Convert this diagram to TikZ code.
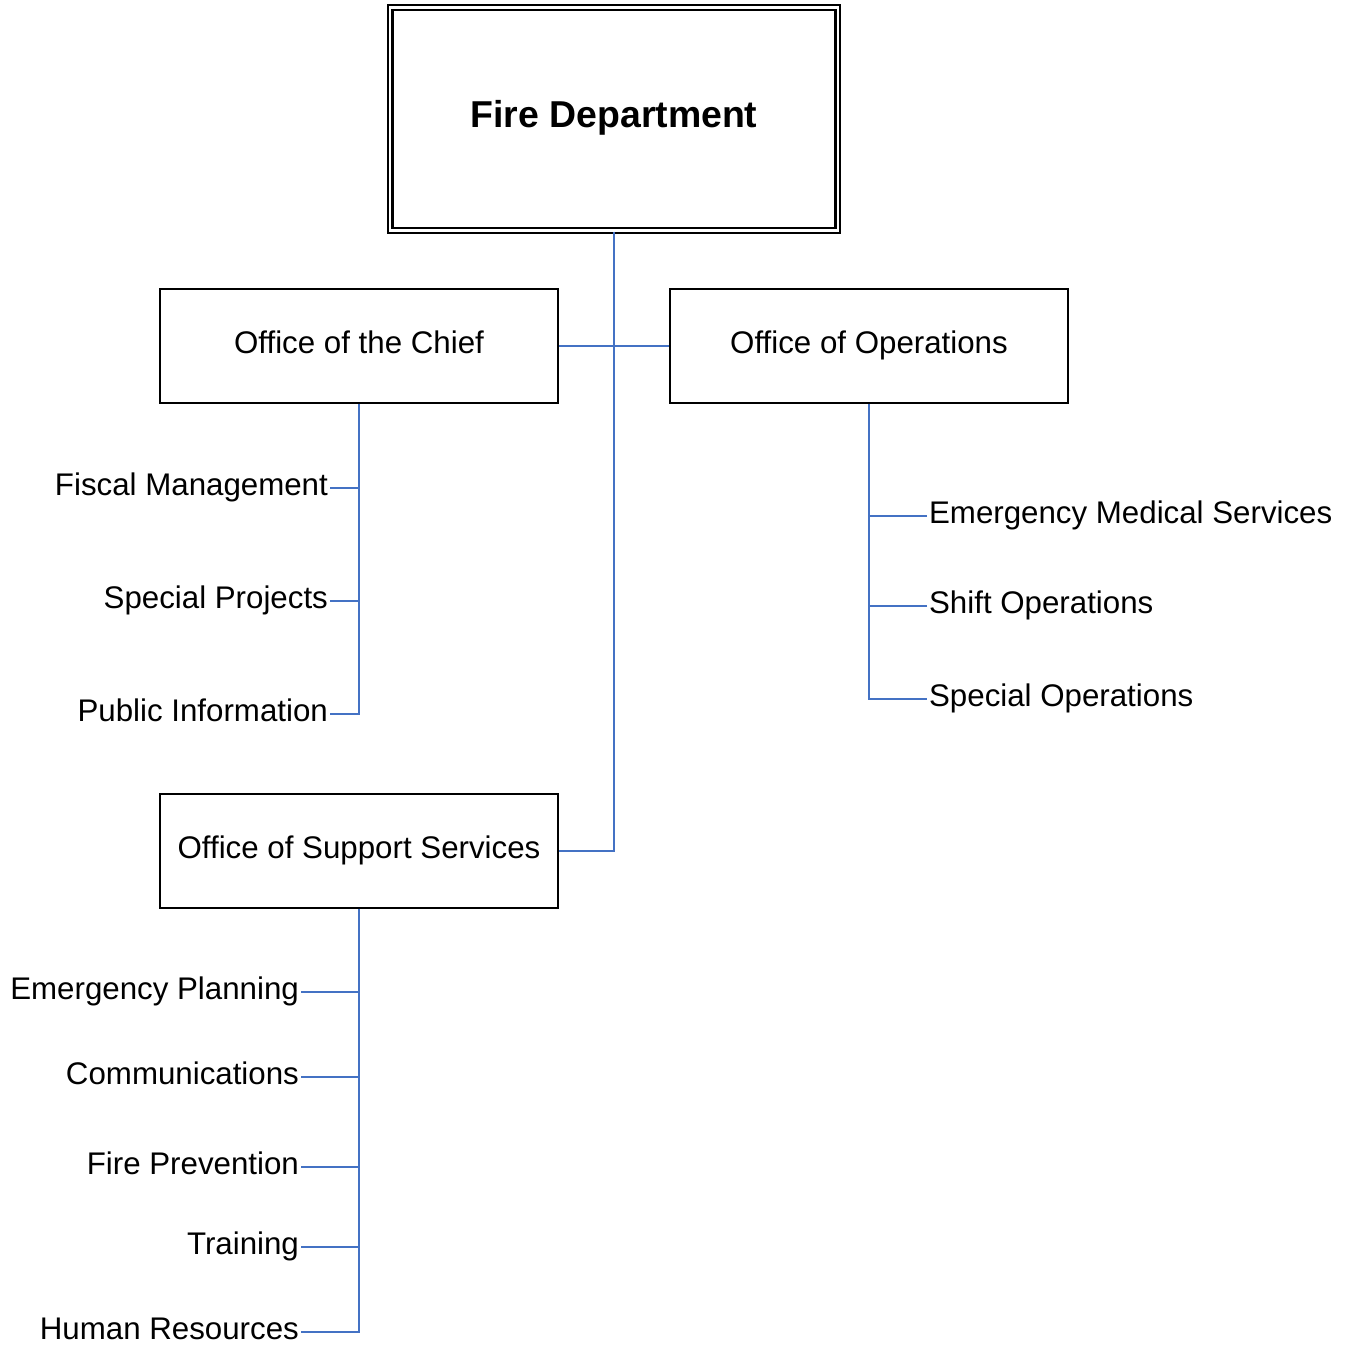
\documentclass[tikz,border=0pt]{standalone}
\usepackage{fontspec}
\setmainfont{Liberation Sans}
\usepackage{xcolor}
\usepackage{tikz}
\usetikzlibrary{positioning}
\definecolor{linkblue}{HTML}{4472C4}
\tikzset{
	unit/.style={draw, line width=0.04cm, minimum width=7.96cm, minimum height=2.28cm, text height=0.92em, text depth=0.06em, font=\fontsize{17.8pt}{21pt}\selectfont}, % office boxes
	topunit/.style={draw, double, double distance=0.05cm, line width=0.045cm, minimum width=8.96cm, minimum height=4.46cm, text height=1.0em, text depth=0pt, font=\fontsize{21.3pt}{25pt}\selectfont\bfseries}, % head box
	item/.style={inner sep=1pt, text height=0.92em, text depth=0.06em, font=\fontsize{17.8pt}{21pt}\selectfont}, % section labels
	link/.style={draw=linkblue, line width=0.04cm}, % connectors
}

\begin{document}
\begin{tikzpicture}[x=0.02cm, y=-0.02cm]
			\useasboundingbox (0,0) rectangle (1350,1347);
			% Offices
			\node[topunit] (dept) at (614,119) {Fire Department};
			\node[unit] (chief) at (359,346) {Office of the Chief};
			\node[unit] (ops) at (869,346) {Office of Operations};
			\node[unit] (support) at (359,850.5) {Office of Support Services};
			
			% Sections of the chief
			\node[item, anchor=east] (fiscal) at (330,488) {Fiscal Management};
			\node[item, anchor=east] (projects) at (330,601) {Special Projects};
			\node[item, anchor=east] (pubinfo) at (330,714) {Public Information};
			
			% Sections of operations
			\node[item, anchor=west] (ems) at (927,516) {Emergency Medical Services};
			\node[item, anchor=west] (shift) at (927,606) {Shift Operations};
			\node[item, anchor=west] (specops) at (927,699) {Special Operations};
			
			% Sections of support services
			\node[item, anchor=east] (planning) at (301,992) {Emergency Planning};
			\node[item, anchor=east] (comms) at (301,1077) {Communications};
			\node[item, anchor=east] (prevention) at (301,1167) {Fire Prevention};
			\node[item, anchor=east] (training) at (301,1247) {Training};
			\node[item, anchor=east] (hr) at (301,1332) {Human Resources};
			
			% Links
			\draw[link] (dept.south) |- (support.east);
			\draw[link] (chief.east) -- (ops.west);
			\draw[link] (chief.south) |- (pubinfo.east);
			\draw[link] (fiscal.east) -- (fiscal.east -| chief.south);
			\draw[link] (projects.east) -- (projects.east -| chief.south);
			\draw[link] (ops.south) |- (specops.west);
			\draw[link] (ems.west) -- (ems.west -| ops.south);
			\draw[link] (shift.west) -- (shift.west -| ops.south);
			\draw[link] (support.south) |- (hr.east);
			\draw[link] (planning.east) -- (planning.east -| support.south);
			\draw[link] (comms.east) -- (comms.east -| support.south);
			\draw[link] (prevention.east) -- (prevention.east -| support.south);
			\draw[link] (training.east) -- (training.east -| support.south);
		\end{tikzpicture}
\end{document}
